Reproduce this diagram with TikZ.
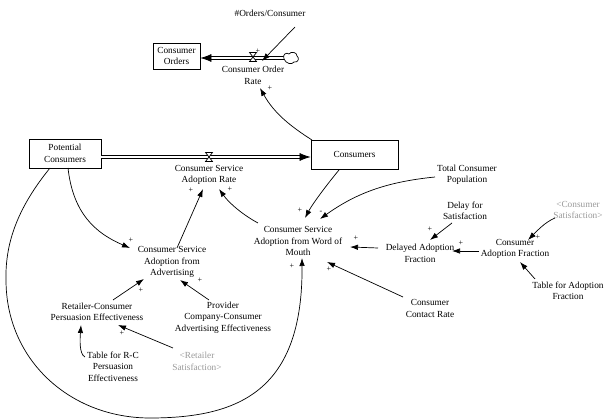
\documentclass[tikz,border=0pt]{standalone}
\usepackage{fontspec}
\setmainfont{Liberation Serif}
\usetikzlibrary{arrows.meta}
\newcommand\dfont{\fontsize{9.3}{11.4}\selectfont\rmfamily}
\newcommand\pfont{\fontsize{8}{8}\selectfont\rmfamily}
\begin{document}
\begin{tikzpicture}[x=1pt,y=-1pt,
  txt/.style={align=center, font=\dfont, inner sep=1pt},
  gtxt/.style={txt, text=black!40},
  stock/.style={draw, line width=0.8pt, align=center, font=\dfont, inner sep=0pt},
  link/.style={line width=0.7pt, -{Latex[length=8pt,width=5.5pt]}},
  pipeline/.style={line width=0.7pt, double distance=2.6pt},
  pipehead/.style={line width=0.7pt, -{Latex[length=11pt,width=8pt]}},
  valveshape/.style={line width=0.7pt, fill=white},
  pol/.style={font=\pfont, inner sep=0pt}]
\useasboundingbox (0,0) rectangle (606,419);
\clip (0,0) rectangle (606,419);

% stocks
\node[stock, minimum width=47pt, minimum height=26pt] (orders) at (176.5,56) {Consumer\\Orders};
\node[stock, minimum width=72pt, minimum height=29pt] (potential) at (65,153.5) {Potential\\Consumers};
\node[stock, minimum width=87pt, minimum height=29pt] (consumers) at (354.5,154.5) {Consumers};

% valves and cloud positions
\coordinate (vOR) at (253,57);
\coordinate (cloud) at (291,58);
\coordinate (vCS) at (209,157);
\coordinate (oEnd) at (orders.east |- cloud);
\coordinate (pS) at (potential.east |- vCS);
\coordinate (pE) at (consumers.west |- vCS);

% pipes
\draw[pipeline] ([xshift=-7pt]cloud) -- ([xshift=9pt]oEnd);
\draw[pipehead] ([xshift=10pt]oEnd) -- (oEnd);
\draw[pipeline] (pS) -- ([xshift=-9pt]pE);
\draw[pipehead] ([xshift=-10pt]pE) -- (pE);

% valves
\draw[valveshape, shift={(vOR)}] (-3.5,-4.5) -- (3.5,-4.5) -- (-3.5,4.5) -- (3.5,4.5) -- cycle;
\draw[valveshape, shift={(vCS)}] (-3.5,-4.5) -- (3.5,-4.5) -- (-3.5,4.5) -- (3.5,4.5) -- cycle;
% cloud
\draw[valveshape, shift={(cloud)}] (-7,1) .. controls (-9,-4) and (-4,-6) .. (-2,-4)
  .. controls (0,-7) and (6,-6) .. (6,-2) .. controls (9,0) and (7,5) .. (3,4)
  .. controls (1,7) and (-5,6) .. (-7,1);

% auxiliaries
\node[txt] (corate) at (253,75.5) {Consumer Order\\Rate};
\node[txt] (ordersper) at (270,13) {\#Orders/Consumer};
\node[txt] (csar) at (209,175) {Consumer Service\\Adoption Rate};
\node[txt] (adv) at (172,262) {Consumer Service\\Adoption from\\Advertising};
\node[txt] (retailer) at (97,312) {Retailer-Consumer\\Persuasion Effectiveness};
\node[txt] (provider) at (223,317.5) {Provider\\Company-Consumer\\Advertising Effectiveness};
\node[txt] (tablerc) at (113,366.5) {Table for R-C\\Persuasion\\Effectiveness};
\node[gtxt] (retsat) at (197,361.5) {<Retailer\\Satisfaction>};
\node[txt] (wom) at (298,241) {Consumer Service\\Adoption from Word of\\Mouth};
\node[txt] (totpop) at (467,174.5) {Total Consumer\\Population};
\node[txt] (delay) at (465,211) {Delay for\\Satisfaction};
\node[txt] (delayed) at (420,253.5) {Delayed Adoption\\Fraction};
\node[txt] (caf) at (515,249) {Consumer\\Adoption Fraction};
\node[gtxt] (consat) at (578,210) {<Consumer\\Satisfaction>};
\node[txt] (tableaf) at (568,291) {Table for Adoption\\Fraction};
\node[txt] (contact) at (430,308.5) {Consumer\\Contact Rate};

% links
\draw[link] ([shift={(25,14)}]ordersper.center) -- ([shift={(9,4)}]vOR);
\draw[link] ([shift={(-42.5,-14.5)}]consumers.center) .. controls +(-22,-14) and +(14,25) .. ([shift={(7,12.5)}]corate.center);
\draw[link] ([shift={(5,-14)}]adv.center) -- ([shift={(-6,14)}]csar.center);
\draw[link] ([shift={(-40,-18)}]wom.center) .. controls +(-15,-8) and +(10,14) .. ([shift={(10,14)}]csar.center);
\draw[link] ([shift={(3,14.5)}]potential.center) .. controls +(5,45) and +(-35,-15) .. ([shift={(-42,-14)}]adv.center);
\draw[link] ([shift={(-15,14.5)}]potential.center) .. controls (20,205) and (5,240) .. (6,280)
  .. controls (6,360) and (70,418) .. (150,418)
  .. controls (240,418) and (303,390) .. ([shift={(4,17)}]wom.center);
\draw[link] ([shift={(16,-12)}]retailer.center) -- ([shift={(-28,17)}]adv.center);
\draw[link] ([shift={(-14,-17.5)}]provider.center) -- ([shift={(8,18)}]adv.center);
\draw[link] ([shift={(-28,-9.5)}]tablerc.center) .. controls +(-6,-3) and +(-1,14) .. ([shift={(-16,13)}]retailer.center);
\draw[link] ([shift={(-24,-13.5)}]retsat.center) -- ([shift={(21,13)}]retailer.center);
\draw[link] ([shift={(-15.5,15.5)}]consumers.center) .. controls +(-10,12) and +(8,-15) .. ([shift={(7,-23)}]wom.center);
\draw[link] ([shift={(-32,2.5)}]totpop.center) .. controls +(-50,5) and +(35,-25) .. ([shift={(22,-22)}]wom.center);
\draw[link] ([shift={(-13,12)}]delay.center) -- ([shift={(10,-13.5)}]delayed.center);
\draw[link] ([shift={(-42,-5.5)}]delayed.center) -- ([shift={(52,6)}]wom.center);
\draw[link] ([shift={(-36,2)}]caf.center) -- ([shift={(32,-2.5)}]delayed.center);
\draw[link] ([shift={(-23,8)}]consat.center) .. controls +(-10,4) and +(8,-8) .. ([shift={(13,-9)}]caf.center);
\draw[link] ([shift={(-33,-12)}]tableaf.center) -- ([shift={(5,13)}]caf.center);
\draw[link] ([shift={(-27,-11.5)}]contact.center) -- ([shift={(29,21)}]wom.center);

% polarities
\node[pol] (p1) at (258,51) {+};
\node[pol] (p2) at (270,88) {+};
\node[pol] (p3) at (191,190) {+};
\node[pol] (p4) at (230,189) {+};
\node[pol] (p5) at (131,240) {+};
\node[pol] (p6) at (141,290) {+};
\node[pol] (p7) at (200,280) {+};
\node[pol] (p8) at (122,333) {+};
\node[pol] (p9) at (300,210) {+};
\node[pol] (p10) at (321,212) {-};
\node[pol] (p11) at (430,229) {+};
\node[pol] (p12) at (356,238) {+};
\node[pol] (p13) at (461,243) {+};
\node[pol] (p14) at (538,237) {+};
\node[pol] (p15) at (329,269) {+};
\node[pol] (p16) at (292,266) {+};
\end{tikzpicture}
\end{document}
